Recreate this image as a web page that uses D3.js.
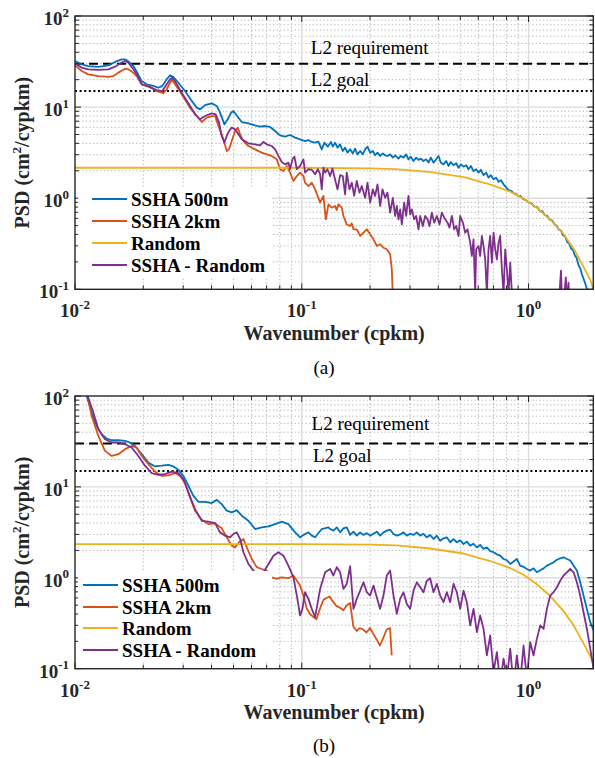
<!DOCTYPE html>
<html>
<head>
<meta charset="utf-8">
<script src="https://cdn.jsdelivr.net/npm/d3@7"></script>
<style>
  body { margin: 0; background: #fff; }
  svg text { font-family: "Liberation Serif", "Times New Roman", serif; }
</style>
</head>
<body>
<svg id="fig" width="595" height="758" font-family="Liberation Serif, Times New Roman, serif"></svg>
<script>
// ---- axis tick values -------------------------------------------------
const xTickValues = [0.01, 0.1, 1];
const xTickExps = ["-2", "-1", "0"];
const yTickValues = [0.1, 1, 10, 100];
const yTickExps = ["-1", "0", "1", "2"];

// ---- series names / colours ------------------------------------------
const seriesNames = ["SSHA 500m", "SSHA 2km", "Random", "SSHA - Random"];
const seriesColors = ["#0072BD", "#D95319", "#EDB120", "#7E2F8E"];

// ---- reference levels (cm^2/cypkm) -----------------------------------
const requirementLevel = 30;
const goalLevel = 15;

// ---- panel (a): [wavenumber cpkm, PSD cm^2/cypkm] --------------------
const ssha500A = [
[0.0100,32.1],[0.0107,29.5],[0.01145,28.2],[0.01267,27.7],[0.01403,28.7],[0.01502,31.3],[0.01606,33.4],[0.01662,33.4],[0.01719,31.8],[0.01809,28.2],[0.01871,24.5],[0.01968,19.3],[0.0207,17.8],[0.02216,17.1],[0.02332,16.3],[0.02428,17.1],[0.02537,20.2],[0.02625,22.3],[0.02716,21.4],[0.02857,18.5],[0.03057,15.0],[0.03271,11.7],[0.03441,9.86],[0.0356,9.45],[0.03746,10.5],[0.04009,11.0],[0.04217,10.3],[0.04362,8.69],[0.04558,6.47],[0.04716,7.34],[0.0488,8.69],[0.04995,9.06],[0.05167,8.1],[0.05437,6.86],[0.05817,6.64],[0.06223,6.3],[0.0655,6.1],[0.0689,6.2],[0.0725,6.05],[0.0763,5.47],[0.0802,4.9],[0.0844,4.74],[0.0888,4.94],[0.0935,4.62],[0.0983,4.43],[0.1034,4.24],[0.107,4.35],[0.1107,4.14],[0.1145,4.07],[0.1184,4.17],[0.1225,3.44],[0.1259,4.07],[0.1302,3.68],[0.1346,4.14],
[0.137,3.68],[0.1403,4.07],[0.1437,3.59],[0.1476,3.9],[0.1516,3.3],[0.1553,3.59],[0.159,3.16],[0.1634,3.44],[0.1679,3.1],[0.1719,3.5],[0.176,3.03],[0.1809,3.3],[0.1858,3.03],[0.1903,3.44],[0.1949,3.68],[0.2002,3.16],[0.2057,3.3],[0.2106,2.96],[0.2157,3.16],[0.2216,2.91],[0.2277,3.1],[0.2331,2.96],[0.2387,2.91],[0.2453,3.03],[0.2521,2.79],[0.2581,2.96],[0.267,2.72],[0.2734,2.91],[0.2809,2.79],[0.2886,3.03],[0.2955,2.67],[0.3026,2.86],[0.3109,2.56],[0.3194,2.79],[0.3271,2.63],[0.335,2.72],[0.3442,2.56],[0.3536,2.67],[0.3621,2.46],[0.3708,2.79],[0.381,2.46],[0.3915,2.67],[0.4009,2.91],[0.4104,2.46],[0.4217,2.35],[0.4333,2.56],[0.4437,2.26],[0.4543,2.5],[0.4669,2.3],[0.4797,2.42],[0.4912,2.16],[0.5029,2.35],[0.5167,2.22],[0.5309,2.3],[0.5437,2.08],[0.5568,2.26],[0.5719,1.99],[0.5876,2.08],[0.6017,1.91],[0.6162,2.05],[0.6331,1.79],[0.6504,1.91],[0.6661,1.68],[0.6821,1.79],[0.7009,1.61],[0.7202,1.68],[0.7375,1.51],[0.755,1.58],[0.7758,1.42],
[0.8,1.3],[0.82,1.22],[0.84,1.2],[0.86,1.13],[0.88,1.12],[0.9,1.05],[0.92,1.06],[0.95,0.97],[0.97,0.96],[1.0,0.9],[1.03,0.88],[1.06,0.81],[1.09,0.8],[1.12,0.73],[1.15,0.72],[1.18,0.65],[1.21,0.64],[1.24,0.58],[1.27,0.57],[1.3,0.52],[1.33,0.5],[1.36,0.45],[1.39,0.44],[1.42,0.39],[1.45,0.38],[1.48,0.33],[1.51,0.32],[1.54,0.28],[1.57,0.27],[1.6,0.235],[1.63,0.22],[1.66,0.185],[1.69,0.17],[1.72,0.145],[1.75,0.13],[1.78,0.115],[1.81,0.1],[1.84,0.085]
];
const ssha2kmA = [
[0.01,28.7],[0.0107,24.9],[0.01145,22.9],[0.01267,21.9],[0.01403,21.5],[0.01476,21.9],[0.01553,23.9],[0.01662,26.4],[0.01719,26.0],[0.01809,23.9],[0.01871,21.9],[0.01968,17.8],[0.02106,17.1],[0.02293,15.0],[0.02453,14.2],[0.02537,15.7],[0.02625,18.5],[0.0267,20.2],[0.02762,17.8],[0.02955,13.8],[0.03217,9.86],[0.03441,7.98],[0.03621,6.86],[0.0381,7.66],[0.04009,7.98],[0.04147,7.98],[0.04289,6.2],[0.04512,4.43],[0.04667,3.3],[0.0478,3.44],[0.0491,4.24],[0.0508,5.47],[0.0522,5.95],[0.05346,5.02],[0.0553,4.24],[0.05817,3.74],[0.06223,3.44],[0.0666,3.16],[0.0701,3.03],[0.0737,2.91],[0.0776,2.67],[0.0802,2.08],[0.083,1.99],[0.0859,2.26],[0.0888,1.91],[0.0919,1.55],[0.0951,1.75],[0.0983,1.91],[0.1017,1.75],[0.1034,1.48],[0.107,1.36],[0.1107,1.48],[0.1145,1.25],[0.1205,0.893],[0.1246,1.06],[0.1276,0.586],[0.1311,0.857],[0.1357,0.787],[0.1403,0.821],[0.1425,0.74],[0.1452,0.857],[0.1501,0.787],[0.1526,0.638],[0.1579,0.516],[0.1634,0.495],[0.166,0.53],[0.169,0.455],[0.1748,0.455],[0.1809,0.385],[0.1871,0.418],[0.1935,0.455],[0.2002,0.401],[0.2071,0.354],[0.2142,0.299],[0.2216,0.312],[0.2292,0.286],[0.2371,0.275],[0.2453,0.242],[0.2495,0.166],[0.2521,0.08]
];
const randomA = [
[0.01,2.16],[0.1,2.16],[0.2,2.13],[0.26,2.09],[0.37,1.93],[0.52,1.70],[0.68,1.41],[0.83,1.18],[0.95,0.99],[1.09,0.78],[1.25,0.58],[1.43,0.40],[1.58,0.28],[1.75,0.175],[1.87,0.127],[1.93,0.1]
];
const sshaMinusRandomA = [
[0.01,30.3],[0.0107,27.1],[0.01145,26.0],[0.01267,25.6],[0.01403,26.0],[0.01502,27.8],[0.01606,30.8],[0.01662,32.1],[0.01719,30.8],[0.01809,26.0],[0.01871,22.9],[0.01968,17.8],[0.02106,16.8],[0.02293,15.4],[0.02428,15.0],[0.02537,17.8],[0.02625,20.2],[0.02688,21.0],[0.02762,19.3],[0.02955,14.4],[0.03217,10.3],[0.03383,8.33],[0.0356,7.34],[0.03746,7.98],[0.04009,8.55],[0.04175,8.33],[0.04318,6.75],[0.04436,4.82],[0.04558,4.07],[0.04667,4.82],[0.0478,5.47],[0.0491,5.95],[0.0508,5.7],[0.05256,5.02],[0.05437,4.43],[0.05817,4.0],[0.06223,3.9],[0.0655,3.8],[0.06775,4.14],[0.0701,3.9],[0.0737,3.74],[0.0763,3.44],[0.0789,2.91],[0.0816,2.5],[0.0844,2.35],[0.0873,2.46],[0.0888,2.08],[0.091,2.67],[0.0928,2.86],[0.0951,2.08],[0.0983,2.26],[0.1017,2.67],[0.1034,1.91],[0.107,2.08],[0.1107,2.05],[0.1145,1.83],[0.1177,2.08],[0.1205,1.83],[0.1225,1.25],[0.1246,2.16],[0.1268,1.91],[0.1298,2.08],[0.1334,1.75],[0.1365,2.12],
[0.1437,1.25],[0.1476,1.79],[0.1516,1.75],[0.1553,1.10],[0.1579,1.91],[0.1623,1.25],[0.1662,1.48],[0.1702,1.06],[0.1748,1.55],[0.1796,1.15],[0.1839,1.36],[0.1903,1.01],[0.1949,1.48],[0.2002,0.893],[0.2057,1.25],[0.2106,1.06],[0.2157,1.42],[0.2216,0.821],[0.2269,1.25],[0.2331,1.01],[0.2387,1.15],[0.2453,0.694],[0.2521,1.01],[0.2581,0.638],[0.2625,0.821],[0.267,0.586],[0.2716,0.755],[0.2762,0.516],[0.2828,0.893],[0.2886,0.638],[0.2955,1.06],[0.3005,0.665],[0.3057,0.755],[0.313,0.586],[0.3194,0.638],[0.3271,0.455],[0.3327,0.638],[0.3418,0.495],[0.35,0.638],[0.3584,0.586],[0.3658,0.495],[0.3746,0.694],[0.3836,0.539],[0.3942,0.638],[0.405,0.516],[0.4146,0.694],[0.4289,0.586],[0.4392,0.539],[0.4482,0.475],[0.459,0.638],[0.47,0.455],[0.4797,0.495],[0.4912,0.385],[0.4995,0.638],[0.5132,0.539],[0.5255,0.418],[0.5382,0.455],[0.553,0.325],[0.5623,0.232],[0.5719,0.354],[0.5817,0.092],[0.5876,0.275],[0.6017,0.299],[0.612,0.232],[0.6224,0.385],[0.6331,0.299],[0.6439,0.213],[0.6549,0.09],[0.6661,0.275],[0.6775,0.385],[0.6891,0.196],[0.7009,0.418],[0.7129,0.275],[0.7251,0.213],[0.7375,0.325],[0.7499,0.385],[0.7628,0.166],[0.7758,0.09],[0.7891,0.275],[0.8026,0.166],[0.8163,0.09],[0.8302,0.196],[0.8444,0.09],
[0.86,0.05],[0.9,0.06],[0.95,0.04],[1.0,0.05],[1.1,0.04],[1.2,0.06],[1.3,0.05],[1.36,0.07],[1.39,0.16],[1.41,0.06],[1.44,0.09],[1.46,0.135],[1.48,0.07],[1.5,0.118],[1.52,0.06],[1.6,0.05],[1.7,0.04],[1.8,0.03],[1.93,0.02]
];

// ---- panel (b) --------------------------------------------------------
const ssha500B = [
[0.01,260],[0.01126,100],[0.01184,65.7],[0.01246,46.9],[0.01311,37.9],[0.0138,34.0],[0.01452,32.6],[0.01553,32.6],[0.01662,32.1],[0.01748,30.8],[0.01839,28.2],[0.01968,22.9],[0.02106,18.5],[0.02254,16.8],[0.02412,17.1],[0.02581,17.5],[0.02716,16.8],[0.02857,15.4],[0.03006,13.2],[0.03163,10.3],[0.03328,7.98],[0.03501,6.86],[0.03746,6.86],[0.04009,6.64],[0.04217,7.2],[0.04436,6.47],[0.04667,5.47],[0.0491,5.24],[0.05167,5.56],[0.05437,4.82],[0.05817,4.24],[0.06223,3.44],[0.0666,3.59],[0.07134,3.68],[0.0763,3.9],[0.0816,4.14],[0.0873,3.9],[0.0935,3.16],[0.0983,2.79],[0.1034,3.03],[0.107,3.16],[0.1107,2.91],[0.1145,2.79],[0.1225,3.44],[0.1311,3.59],
[0.1334,3.44],[0.1379,3.30],[0.1427,3.59],[0.1476,3.16],[0.1526,3.5],[0.1579,3.59],[0.1634,2.96],[0.169,3.22],[0.1748,2.91],[0.1809,3.16],[0.1871,2.96],[0.1935,3.1],[0.2002,2.91],[0.2071,3.05],[0.2142,3.22],[0.2216,2.91],[0.2292,3.16],[0.2371,3.3],[0.2453,3.38],[0.2538,3.03],[0.2625,2.91],[0.2716,3.0],[0.2809,3.16],[0.2906,2.91],[0.3006,3.05],[0.3109,2.96],[0.3216,3.16],[0.3327,2.91],[0.3442,3.05],[0.356,2.79],[0.3683,2.96],[0.381,2.67],[0.3941,2.91],[0.4077,2.56],[0.4217,2.72],[0.4362,2.79],[0.4513,2.46],[0.4668,2.67],[0.4829,2.46],[0.4995,2.58],[0.5167,2.35],[0.5345,2.5],[0.553,2.26],[0.572,2.37],[0.5917,2.16],[0.612,2.3],[0.6331,2.08],[0.6549,2.16],[0.6775,1.97],[0.7009,1.91],[0.7251,1.81],[0.7499,1.75],[0.7758,1.61],[0.8026,1.56],[0.8302,1.42],[0.8588,1.51],[0.8882,1.61],[0.9188,1.36],[0.9504,1.32],[0.9832,1.25],[1.017,1.20],[1.052,1.27],[1.088,1.15],[1.126,1.21],[1.165,1.27],[1.205,1.36],[1.246,1.42],[1.289,1.48],[1.334,1.58],[1.38,1.64],[1.427,1.68],[1.476,1.61],[1.527,1.55],[1.58,1.36],[1.634,1.20],[1.69,0.893],[1.748,0.638],[1.808,0.455],[1.871,0.325],[1.935,0.263]
];
const ssha2kmB = [
[0.01,250],[0.01137,100],[0.01184,60.3],[0.01267,36.4],[0.01356,24.9],[0.01452,21.9],[0.01553,22.9],[0.01662,26.0],[0.01778,28.2],[0.01871,27.1],[0.01968,21.9],[0.02106,17.8],[0.02254,14.7],[0.02412,13.2],[0.02581,13.4],[0.02762,14.2],[0.02906,13.2],[0.03057,11.0],[0.03217,7.66],[0.03383,5.47],[0.03621,4.35],[0.03873,3.9],[0.04147,3.97],[0.04436,3.5],[0.04667,2.79],[0.0491,2.26],[0.0508,2.16],[0.0529,2.46],[0.0553,2.67],[0.0572,2.16],[0.0602,1.61],[0.0633,1.31],[0.0666,1.25],[0.0701,1.2],[0.0737,1.01],[0.0776,0.972],[0.0816,1.01],[0.0873,0.99],[0.0919,1.06],[0.0951,0.931],[0.0983,0.821],[0.1017,0.64],[0.1052,0.46],[0.1087,0.4],[0.1126,0.37],[0.1161,0.35],[0.12,0.45],[0.1245,0.57],[0.1285,0.6],[0.1328,0.62],[0.137,0.55],[0.1423,0.49],[0.147,0.47],[0.1526,0.44],[0.158,0.5],[0.1633,0.53],[0.1689,0.29],[0.1748,0.26],[0.18,0.28],[0.1867,0.27],[0.193,0.25],[0.2,0.28],[0.207,0.24],[0.2139,0.21],[0.2212,0.18],[0.229,0.22],[0.2369,0.27],[0.245,0.28],[0.2493,0.14]
];
const randomB = [
[0.01,2.35],[0.1,2.35],[0.2,2.32],[0.2625,2.27],[0.3683,2.1],[0.5167,1.85],[0.6775,1.53],[0.8302,1.28],[0.9504,1.08],[1.088,0.85],[1.246,0.63],[1.427,0.43],[1.58,0.30],[1.748,0.19],[1.871,0.138],[1.97,0.10]
];
const sshaMinusRandomB = [
[0.01,250],[0.01205,65.7],[0.01267,43.1],[0.01356,33.4],[0.01452,30.8],[0.01553,30.8],[0.01662,29.5],[0.01778,27.1],[0.01902,21.9],[0.02035,17.1],[0.02178,14.2],[0.02332,13.6],[0.02495,13.8],[0.0267,14.7],[0.02857,14.2],[0.03006,12.2],[0.03163,8.69],[0.03383,5.7],[0.03621,4.24],[0.03873,4.14],[0.04147,4.0],[0.04362,3.16],[0.04589,2.91],[0.04827,2.79],[0.04995,3.03],[0.05167,3.16],[0.05346,2.67],[0.0553,1.91],[0.05817,1.42],[0.0612,1.2],[0.0644,1.06],[0.06775,1.15],[0.07134,1.42],[0.075,1.75],[0.0789,1.91],[0.083,1.75],[0.0873,1.36],[0.0919,1.01],[0.0951,0.638],[0.0983,0.385],[0.1007,0.455],[0.1034,0.694],[0.107,0.586],[0.1107,0.455],[0.1145,0.369],[0.1205,0.755],[0.1268,1.15],[0.1334,1.25],
[0.1379,1.06],[0.1427,1.31],[0.1476,1.15],[0.1526,0.755],[0.1579,0.857],[0.1634,1.34],[0.169,0.455],[0.1748,0.586],[0.1809,0.724],[0.1871,0.893],[0.1935,0.694],[0.2002,0.638],[0.2071,0.821],[0.2142,0.611],[0.2216,0.455],[0.2292,0.638],[0.2371,1.06],[0.2453,1.2],[0.2538,0.638],[0.2625,0.401],[0.2716,0.586],[0.2809,0.694],[0.2906,0.516],[0.3006,0.455],[0.3109,0.724],[0.3216,0.893],[0.3327,0.787],[0.3442,0.694],[0.356,0.93],[0.3683,0.99],[0.381,0.694],[0.3941,0.857],[0.4077,0.638],[0.4217,0.539],[0.4362,0.694],[0.4513,0.539],[0.4668,0.857],[0.4829,0.694],[0.4995,0.455],[0.5167,0.724],[0.5345,0.539],[0.553,0.299],[0.572,0.455],[0.5917,0.252],[0.612,0.385],[0.6331,0.275],[0.6549,0.14],[0.6775,0.232],[0.7009,0.092],[0.7251,0.152],[0.7499,0.07],[0.7758,0.129],[0.8026,0.078],[0.8302,0.166],[0.8588,0.065],[0.8882,0.14],[0.9188,0.07],[0.9504,0.18],[0.9832,0.078],[1.017,0.196],[1.052,0.14],[1.088,0.213],[1.126,0.299],[1.165,0.275],[1.205,0.455],[1.246,0.638],[1.289,0.694],[1.334,0.787],[1.38,0.931],[1.427,1.06],[1.476,1.15],[1.527,1.25],[1.58,1.15],[1.634,0.893],[1.69,0.638],[1.748,0.418],[1.808,0.275],[1.871,0.166],[1.935,0.1],[1.97,0.07]
];

// ---- layout -----------------------------------------------------------
const plotLeft = 75, plotRight = 593.3;
const xDomain = [0.01, 1.93];
const yDomain = [0.1, 100];

const panels = [
  {
    id: "a", top: 16, bottom: 289.3, caption: "(a)", captionY: 374,
    xTitleY: 340, tickLabelY: 317,
    data: [ssha500A, ssha2kmA, randomA, sshaMinusRandomA],
    reqLabel: [0.1096, 38.3], goalLabel: [0.1096, 17.1],
    legend: { x: 78, y: 187, w: 194, h: 90, line: [92, 127], textX: 131, rows: [199, 221, 243, 265] }
  },
  {
    id: "b", top: 396, bottom: 668.7, caption: "(b)", captionY: 752,
    xTitleY: 719, tickLabelY: 697,
    data: [ssha500B, ssha2kmB, randomB, sshaMinusRandomB],
    reqLabel: [0.1105, 42.3], goalLabel: [0.112, 18.8],
    legend: { x: 78, y: 571, w: 194, h: 90, line: [83, 118], textX: 122, rows: [585, 607, 628, 650] }
  }
];

const svg = d3.select("#fig");
const axisColor = "#262626";

function minorValues(lo, hi) {
  const out = [];
  for (let e = Math.floor(Math.log10(lo)); e <= Math.ceil(Math.log10(hi)); e++) {
    for (let m = 2; m <= 9; m++) {
      const v = m * Math.pow(10, e);
      if (v > lo * 1.0001 && v < hi * 0.9999) out.push(v);
    }
  }
  return out;
}

function powerLabel(textSel, exp) {
  textSel.append("tspan").text("10");
  textSel.append("tspan").attr("dy", -8.5).attr("font-size", 13).text(exp);
}

panels.forEach(p => {
  const x = d3.scaleLog().domain(xDomain).range([plotLeft, plotRight]);
  const y = d3.scaleLog().domain(yDomain).range([p.bottom, p.top]);
  const g = svg.append("g");

  const clipId = "clip-" + p.id;
  svg.append("clipPath").attr("id", clipId)
    .append("rect").attr("x", plotLeft).attr("y", p.top)
    .attr("width", plotRight - plotLeft).attr("height", p.bottom - p.top);

  // grid: minor dotted, major solid
  const xMinor = minorValues(xDomain[0], xDomain[1]);
  const yMinor = minorValues(yDomain[0], yDomain[1]);
  const grid = g.append("g");
  grid.selectAll(".xminor").data(xMinor).join("line")
    .attr("x1", d => x(d)).attr("x2", d => x(d)).attr("y1", p.top).attr("y2", p.bottom)
    .attr("stroke", "#b5b5b5").attr("stroke-width", 1).attr("stroke-dasharray", "1.3,2.3");
  grid.selectAll(".yminor").data(yMinor).join("line")
    .attr("y1", d => y(d)).attr("y2", d => y(d)).attr("x1", plotLeft).attr("x2", plotRight)
    .attr("stroke", "#b5b5b5").attr("stroke-width", 1).attr("stroke-dasharray", "1.3,2.3");
  grid.selectAll(".xmajor").data(xTickValues.filter(v => v > xDomain[0])).join("line")
    .attr("x1", d => x(d)).attr("x2", d => x(d)).attr("y1", p.top).attr("y2", p.bottom)
    .attr("stroke", "#dcdcdc").attr("stroke-width", 1.4);
  grid.selectAll(".ymajor").data(yTickValues.filter(v => v > yDomain[0] && v < yDomain[1])).join("line")
    .attr("y1", d => y(d)).attr("y2", d => y(d)).attr("x1", plotLeft).attr("x2", plotRight)
    .attr("stroke", "#dcdcdc").attr("stroke-width", 1.4);

  // requirement / goal levels
  g.append("line").attr("x1", plotLeft).attr("x2", plotRight)
    .attr("y1", y(requirementLevel)).attr("y2", y(requirementLevel))
    .attr("stroke", "#000").attr("stroke-width", 2).attr("stroke-dasharray", "9,5");
  g.append("line").attr("x1", plotLeft).attr("x2", plotRight)
    .attr("y1", y(goalLevel)).attr("y2", y(goalLevel))
    .attr("stroke", "#000").attr("stroke-width", 2).attr("stroke-dasharray", "2,2.6");
  g.append("text").attr("x", x(p.reqLabel[0])).attr("y", y(p.reqLabel[1]))
    .attr("font-size", 19).attr("fill", "#000").text("L2 requirement");
  g.append("text").attr("x", x(p.goalLabel[0])).attr("y", y(p.goalLabel[1]))
    .attr("font-size", 19).attr("fill", "#000").text("L2 goal");

  // spectra
  const line = d3.line().x(d => x(d[0])).y(d => y(d[1]));
  const lines = g.append("g").attr("clip-path", `url(#${clipId})`);
  p.data.forEach((series, i) => {
    lines.append("path").datum(series)
      .attr("d", line)
      .attr("fill", "none")
      .attr("stroke", seriesColors[i])
      .attr("stroke-width", 1.8)
      .attr("stroke-linejoin", "round");
  });

  // frame and inward ticks
  const ticks = g.append("g").attr("stroke", axisColor).attr("stroke-width", 1);
  const xAll = xTickValues.map(v => [v, 6]).concat(xMinor.map(v => [v, 4]));
  xAll.forEach(([v, len]) => {
    ticks.append("line").attr("x1", x(v)).attr("x2", x(v)).attr("y1", p.bottom).attr("y2", p.bottom - len);
    ticks.append("line").attr("x1", x(v)).attr("x2", x(v)).attr("y1", p.top).attr("y2", p.top + len);
  });
  const yAll = yTickValues.map(v => [v, 6]).concat(yMinor.map(v => [v, 4]));
  yAll.forEach(([v, len]) => {
    ticks.append("line").attr("y1", y(v)).attr("y2", y(v)).attr("x1", plotLeft).attr("x2", plotLeft + len);
    ticks.append("line").attr("y1", y(v)).attr("y2", y(v)).attr("x1", plotRight).attr("x2", plotRight - len);
  });
  g.append("rect").attr("x", plotLeft).attr("y", p.top)
    .attr("width", plotRight - plotLeft).attr("height", p.bottom - p.top)
    .attr("fill", "none").attr("stroke", axisColor).attr("stroke-width", 1.4);

  // tick labels
  xTickValues.forEach((v, i) => {
    const t = g.append("text").attr("x", x(v)).attr("y", p.tickLabelY)
      .attr("text-anchor", "middle").attr("font-size", 19).attr("font-weight", "bold").attr("fill", "#262626");
    powerLabel(t, xTickExps[i]);
  });
  yTickValues.forEach((v, i) => {
    const t = g.append("text").attr("x", 69).attr("y", y(v) + 9)
      .attr("text-anchor", "end").attr("font-size", 19).attr("font-weight", "bold").attr("fill", "#262626");
    powerLabel(t, yTickExps[i]);
  });

  // axis titles
  g.append("text").attr("x", (plotLeft + plotRight) / 2).attr("y", p.xTitleY)
    .attr("text-anchor", "middle").attr("font-size", 20).attr("font-weight", "bold").attr("fill", "#262626")
    .text("Wavenumber (cpkm)");
  const yt = g.append("text")
    .attr("transform", `translate(29,${(p.top + p.bottom) / 2}) rotate(-90)`)
    .attr("text-anchor", "middle").attr("font-size", 20).attr("font-weight", "bold").attr("fill", "#262626");
  yt.append("tspan").text("PSD (cm");
  yt.append("tspan").attr("dy", -8).attr("font-size", 13).text("2");
  yt.append("tspan").attr("dy", 8).text("/cypkm)");

  // legend
  const L = p.legend;
  const lg = g.append("g");
  lg.append("rect").attr("x", L.x).attr("y", L.y).attr("width", L.w).attr("height", L.h).attr("fill", "#fff");
  seriesNames.forEach((name, i) => {
    lg.append("line").attr("x1", L.line[0]).attr("x2", L.line[1])
      .attr("y1", L.rows[i]).attr("y2", L.rows[i])
      .attr("stroke", seriesColors[i]).attr("stroke-width", 2);
    lg.append("text").attr("x", L.textX).attr("y", L.rows[i] + 6.5)
      .attr("font-size", 19).attr("font-weight", "bold").attr("fill", "#000").text(name);
  });

  // panel caption
  svg.append("text").attr("x", 324).attr("y", p.captionY).attr("text-anchor", "middle")
    .attr("font-size", 19).attr("fill", "#000").text(p.caption);
});
</script>
</body>
</html>
